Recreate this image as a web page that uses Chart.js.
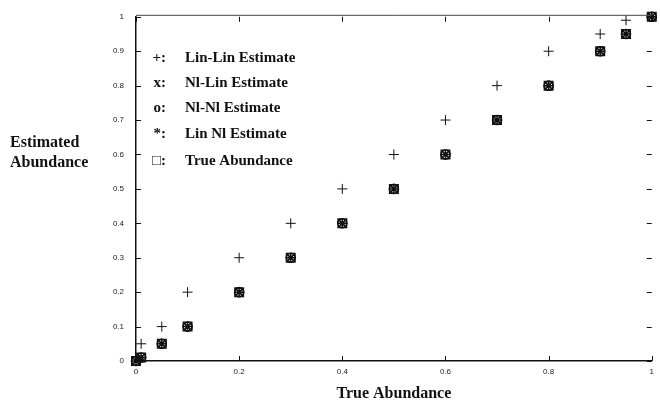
<!DOCTYPE html>
<html>
<head>
<meta charset="utf-8">
<script src="https://cdn.jsdelivr.net/npm/chart.js@4.4.1/dist/chart.umd.min.js"></script>
<style>
  body { margin: 0; background: #fff; }
  #wrap { width: 660px; height: 405px; }
</style>
</head>
<body>
<div id="wrap"><canvas id="myChart" width="660" height="405"></canvas></div>
<script>
// true abundance values (x axis)
var trueX = [0, 0.01, 0.05, 0.1, 0.2, 0.3, 0.4, 0.5, 0.6, 0.7, 0.8, 0.9, 0.95, 1];
// Lin-Lin estimate is shifted up
var linLinX = [0.01, 0.05, 0.1, 0.2, 0.3, 0.4, 0.5, 0.6, 0.7, 0.8, 0.9, 0.95, 1];
var linLinY = [0.05, 0.1, 0.2, 0.3, 0.4, 0.5, 0.6, 0.7, 0.8, 0.9, 0.95, 0.99, 1];
// the other estimates sit on top of the true values
var nlLinY = [0, 0.01, 0.05, 0.1, 0.2, 0.3, 0.4, 0.5, 0.6, 0.7, 0.8, 0.9, 0.95, 1];
var nlNlY = [0, 0.01, 0.05, 0.1, 0.2, 0.3, 0.4, 0.5, 0.6, 0.7, 0.8, 0.9, 0.95, 1];
var linNlY = [0, 0.01, 0.05, 0.1, 0.2, 0.3, 0.4, 0.5, 0.6, 0.7, 0.8, 0.9, 0.95, 1];
var trueY = [0, 0.01, 0.05, 0.1, 0.2, 0.3, 0.4, 0.5, 0.6, 0.7, 0.8, 0.9, 0.95, 1];

var legendSymbols = ["+:", "x:", "o:", "*:", "\u25A1:"];
var legendNames = ["Lin-Lin Estimate", "Nl-Lin Estimate", "Nl-Nl Estimate", "Lin Nl Estimate", "True Abundance"];
var yTitle = ["Estimated", "Abundance"];
var xTitle = "True Abundance";

function pts(xs, ys) {
    var out = [];
    for (var i = 0; i < xs.length; i++) out.push({x: xs[i], y: ys[i]});
    return out;
}

// tick labels like the original: 0, 0.1 ... 1
function fmt(v) { return String(Math.round(v * 10) / 10); }

// draws inward tick marks, top line, legend and the y title
var extras = {
    id: 'extras',
    afterDraw: function(chart) {
        var ctx = chart.ctx;
        var a = chart.chartArea;
        var xs = chart.scales.x, ys = chart.scales.y;
        ctx.save();
        ctx.strokeStyle = '#111';
        ctx.lineWidth = 1;
        ctx.beginPath();
        ys.ticks.forEach(function(t) {
            var py = Math.round(ys.getPixelForValue(t.value)) + 0.5;
            ctx.moveTo(a.left, py); ctx.lineTo(a.left + 5, py);
            ctx.moveTo(a.right, py); ctx.lineTo(a.right - 5, py);
        });
        xs.ticks.forEach(function(t) {
            var px = Math.round(xs.getPixelForValue(t.value)) + 0.5;
            ctx.moveTo(px, a.bottom); ctx.lineTo(px, a.bottom - 5);
            ctx.moveTo(px, a.top); ctx.lineTo(px, a.top + 5);
        });
        ctx.stroke();
        // top frame line
        ctx.strokeStyle = '#444';
        ctx.beginPath();
        ctx.moveTo(a.left, a.top - 1.5); ctx.lineTo(a.right, a.top - 1.5);
        ctx.stroke();

        ctx.fillStyle = '#111';
        ctx.font = 'bold 15px "Liberation Serif", serif';
        ctx.textBaseline = 'middle';
        var rows = [58, 83, 108, 134, 161];
        for (var i = 0; i < legendNames.length; i++) {
            ctx.textAlign = 'right';
            ctx.fillText(legendSymbols[i], 166, rows[i]);
            ctx.textAlign = 'left';
            ctx.fillText(legendNames[i], 185, rows[i]);
        }
        ctx.font = 'bold 16px "Liberation Serif", serif';
        ctx.textAlign = 'left';
        ctx.fillText(yTitle[0], 10, 143);
        ctx.fillText(yTitle[1], 10, 163);
        ctx.restore();
    }
};

var ctx = document.getElementById('myChart').getContext('2d');
var chart = new Chart(ctx, {
    type: 'scatter',
    data: {
        datasets: [
            { label: legendNames[4], data: pts(trueX, trueY), pointStyle: 'rect', pointRadius: 6,
              borderColor: '#111', backgroundColor: 'rgba(255,255,255,0)', borderWidth: 1.5, clip: false },
            { label: legendNames[0], data: pts(linLinX, linLinY), pointStyle: 'cross', pointRadius: 5,
              borderColor: '#111', borderWidth: 1, clip: false },
            { label: legendNames[1], data: pts(trueX, nlLinY), pointStyle: 'crossRot', pointRadius: 4.5,
              borderColor: '#111', borderWidth: 1.2, clip: false },
            { label: legendNames[2], data: pts(trueX, nlNlY), pointStyle: 'circle', pointRadius: 4.5,
              borderColor: '#111', backgroundColor: 'rgba(0,0,0,0)', borderWidth: 1.6, clip: false },
            { label: legendNames[3], data: pts(trueX, linNlY), pointStyle: 'star', pointRadius: 5,
              borderColor: '#111', borderWidth: 1.5, clip: false }
        ]
    },
    options: {
        responsive: false,
        animation: false,
        layout: { padding: { top: 16, right: 0, left: 0, bottom: 0 } },
        plugins: { legend: { display: false }, tooltip: { enabled: false } },
        scales: {
            x: {
                type: 'linear', min: 0, max: 1,
                ticks: { stepSize: 0.2, color: '#222', padding: 6, maxRotation: 0,
                         callback: fmt,
                         font: { family: '"Liberation Sans", sans-serif', size: 8 } },
                grid: { display: false, drawTicks: false },
                border: { color: '#111', width: 1.5 },
                title: { display: true, text: xTitle, color: '#111', padding: { top: 0, bottom: 2 },
                         font: { family: '"Liberation Serif", serif', size: 16, weight: 'bold' } },
                afterFit: function(s) { s.height = 44; }
            },
            y: {
                type: 'linear', min: 0, max: 1,
                ticks: { stepSize: 0.1, color: '#222', padding: 12,
                         callback: fmt,
                         font: { family: '"Liberation Sans", sans-serif', size: 8 } },
                grid: { display: false, drawTicks: false },
                border: { color: '#111', width: 1.5 },
                afterFit: function(s) { s.width = 136; }
            }
        }
    },
    plugins: [extras]
});
</script>
</body>
</html>
